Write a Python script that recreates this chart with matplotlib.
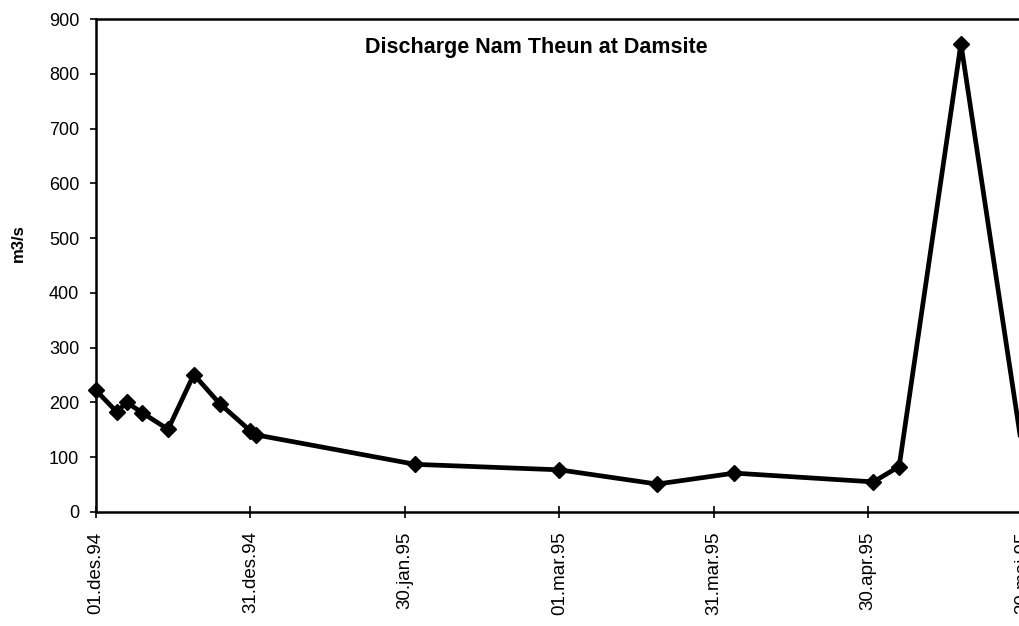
import matplotlib
matplotlib.use("Agg")
import matplotlib.pyplot as plt
import pandas as pd

plt.rcParams['font.family'] = ['Liberation Sans', 'DejaVu Sans']

# discharge readings (date, m3/s); the last one lies just past the cropped edge
dates = ['1994-12-01', '1994-12-05', '1994-12-07', '1994-12-10', '1994-12-15',
         '1994-12-20', '1994-12-25', '1994-12-31', '1995-01-01', '1995-02-01',
         '1995-03-01', '1995-03-20', '1995-04-04', '1995-05-01', '1995-05-06',
         '1995-05-18', '1995-05-31']
discharge = [222, 183, 200, 181, 151, 251, 198, 148, 141, 87,
             77, 51, 71, 55, 83, 855, 46]

tick_dates = ['1994-12-01', '1994-12-31', '1995-01-30', '1995-03-01',
              '1995-03-31', '1995-04-30', '1995-05-30']
tick_labels = ['01.des.94', '31.des.94', '30.jan.95', '01.mar.95',
               '31.mar.95', '30.apr.95', '30.mai.95']

start = pd.Timestamp('1994-12-01')
days = [(pd.Timestamp(d) - start).days for d in dates]
tick_days = [(pd.Timestamp(d) - start).days for d in tick_dates]

fig = plt.figure(figsize=(10.19, 6.26), dpi=100)
# axes run past the right edge: the scanned chart is cropped there
ax = fig.add_axes([96 / 1019, 114 / 626, 937 / 1019, 493 / 626])

ax.plot(days, discharge, color='black', linewidth=3.4, marker='D',
        markersize=8.5, markerfacecolor='black', markeredgecolor='black',
        clip_on=False)

ax.set_xlim(0, 182)
ax.set_ylim(0, 900)
ax.set_yticks(range(0, 901, 100))
ax.set_xticks(tick_days)
ax.set_xticklabels(tick_labels, rotation=90, fontsize=13.5)
ax.tick_params(axis='y', labelsize=13, direction='out', length=4, width=1.2, pad=8)
ax.tick_params(axis='x', direction='inout', length=8, width=1.2, pad=10)

for side in ['left', 'bottom', 'top', 'right']:
    ax.spines[side].set_linewidth(1.8)

fig.text(18 / 1019, 1 - 243 / 626, 'm3/s', rotation=90, ha='center',
         va='center', fontsize=12, fontweight='bold')

fig.text(536 / 1019, 1 - 47 / 626, 'Discharge Nam Theun at Damsite',
         ha='center', va='center', fontsize=15.5, fontweight='bold')

fig.savefig('out.png', dpi=100)
